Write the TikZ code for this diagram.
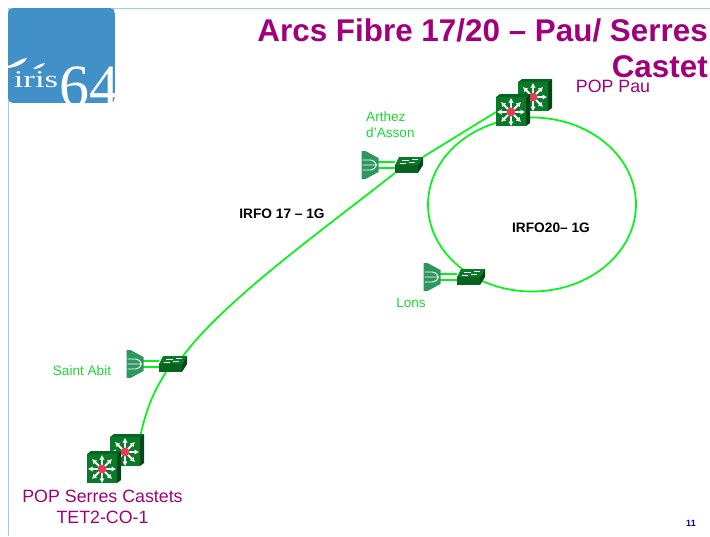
\documentclass[tikz,border=0pt]{standalone}
\usepackage{fontspec}
\setmainfont{Liberation Sans}
\newfontfamily\logofont{Liberation Serif}
\usepackage{xcolor}
\usepackage{tikz}
\usetikzlibrary{shapes.geometric, arrows.meta, positioning}
\definecolor{titlepurple}{RGB}{160,0,122}
\definecolor{fibregreen}{RGB}{0,245,20}
\definecolor{labelgreen}{RGB}{30,215,50}
\definecolor{framedblue}{RGB}{150,205,245}
\definecolor{logoblue}{RGB}{66,144,200}
\definecolor{iconfront}{RGB}{8,122,40}
\definecolor{icontop}{RGB}{6,100,32}
\definecolor{iconside}{RGB}{4,70,24}
\definecolor{hubgreen}{RGB}{46,150,95}
\definecolor{dotred}{RGB}{228,60,90}
\tikzstyle{iconbox} = [rectangle, inner sep=0pt, outer sep=0pt]
\tikzstyle{routerbox} = [iconbox, minimum width=30pt, minimum height=29pt]
\tikzstyle{switchbox} = [iconbox, minimum width=28pt, minimum height=16pt]
\tikzstyle{hubbox} = [iconbox, minimum width=17pt, minimum height=28pt]
\tikzstyle{fibre} = [draw=fibregreen, line width=1.7pt]
\tikzstyle{sitelabel} = [font=\fontsize{13.6}{16}\selectfont, text=labelgreen, inner sep=0pt, align=left]
\tikzstyle{linklabel} = [font=\fontsize{13.7}{16}\selectfont\bfseries, text=black, inner sep=0pt]
\tikzstyle{poplabel} = [font=\fontsize{17.8}{21}\selectfont, text=titlepurple, inner sep=0pt, align=center]
\tikzstyle{titletext} = [font=\fontsize{31.4}{38}\selectfont\bfseries, text=titlepurple, inner sep=0pt]
\tikzset{
  routericon/.pic={
    \fill[icontop] (-15,-15) -- (-11,-18) -- (19,-18) -- (15,-15) -- cycle;
    \fill[iconside] (15,-15) -- (19,-18) -- (19,11) -- (15,14) -- cycle;
    \fill[iconfront] (-15,-15) rectangle (15,14);
    \foreach \a in {0,45,...,315}
      \draw[white, line width=1.8pt, -{Latex[length=4.5pt,width=5.5pt]}] (0,0) -- (\a:14);
    \fill[dotred] (0,0) circle (4.5);
  },
  switchicon/.pic={
    \fill[iconfront] (-10,-8) -- (14,-8) -- (9,0) -- (-14,0) -- cycle;
    \fill[iconside] (9,0) -- (14,-8) -- (14,0) -- (9,8) -- cycle;
    \fill[icontop] (-14,0) rectangle (9,8);
    \draw[white, line width=1pt] (-7,-5) -- (0,-5) (3,-5.5) -- (9,-5.5) (-9,-2) -- (-3,-2) (0,-2.5) -- (6,-2.5);
  },
  hubicon/.pic={
    \fill[hubgreen] (-8,-14) -- (-4,-14) -- (9,-7) -- (9,7) -- (-4,14) -- (-8,14) -- cycle;
    \draw[white, line width=0.9pt] (-7,-5) -- (1,-5) .. controls (4,-5) and (6,-3) .. (7,0)
      (-7,0) -- (7,0) (-7,5) -- (1,5) .. controls (4,5) and (6,3) .. (7,0);
  },
}

\begin{document}
\begin{tikzpicture}[x=1pt, y=-1pt]
    \useasboundingbox (0,0) rectangle (710,536);

    % Frame and logo
    \coordinate (frametop) at (710,8);
    \coordinate (framebot) at (8,536);
    \draw[framedblue, line width=0.9pt] (framebot) |- (frametop);
    \begin{scope}
      \clip[rounded corners=5pt] (8,8) rectangle (115,103);
      \fill[logoblue] (8,8) rectangle (115,103);
      \fill[white] (8,66) .. controls (14,64) and (22,58) .. (27,58) .. controls (26,62) and (18,67) .. (8,68) -- cycle;
      \fill[white] (33,69) .. controls (36,66) and (40,64) .. (45,63) .. controls (44,66) and (39,69) .. (33,69) -- cycle;
      \node[inner sep=0pt, text=white, xscale=1.45, transform shape, font=\logofont\fontsize{24}{24}\selectfont] (logoname) at (36,80) {iris};
      \node[inner sep=0pt, text=white, font=\logofont\fontsize{60}{60}\selectfont] (logonum) at (89,87) {64};
    \end{scope}

    % Title
    \node[titletext, anchor=east] (title) at (708,30) {Arcs Fibre 17/20 -- Pau/ Serres};
    \node[titletext, anchor=east] (titleb) at (708,67) {Castet};

    % Ring (behind the icons)
    \node[ellipse, fibre, minimum width=208pt, minimum height=174pt] (ring) at (532,204.5) {};

    % Routers and switches
    \node[routerbox] (paub) at (533,97) {};
    \node[routerbox] (pauf) at (511,112) {};
    \node[routerbox] (serresb) at (125,452) {};
    \node[routerbox] (serresf) at (102,469) {};
    \node[switchbox] (arthezsw) at (409,165) {};
    \node[switchbox] (abitsw) at (173,364) {};
    \node[switchbox] (lonssw) at (471,277) {};
    \node[hubbox, left=17pt of arthezsw] (arthezhub) {};
    \node[hubbox, left=16pt of abitsw] (abithub) {};
    \node[hubbox, left=17pt of lonssw] (lonshub) {};

    % Fibre links
    \draw[fibre] (arthezsw.north east) -- (pauf.west);
    \draw[fibre] ([xshift=-4pt]abitsw.north east) .. controls (225,300) and (320,232) .. (arthezsw.south west);
    \draw[fibre] (serresb.north east) .. controls (147,405) and (155,390) .. ([xshift=-7pt]abitsw.south);
    \foreach \sw/\hub in {arthezsw/arthezhub, abitsw/abithub, lonssw/lonshub} {
      \draw[fibre] ([yshift=-2.7pt]\hub.east) -- ([yshift=-2.7pt]\sw.west);
      \draw[fibre] ([yshift=2.7pt]\hub.east) -- ([yshift=2.7pt]\sw.west);
    }

    % Icons
    \pic at (paub) {routericon};
    \pic at (pauf) {routericon};
    \pic at (serresb) {routericon};
    \pic at (serresf) {routericon};
    \foreach \sw in {arthezsw, abitsw, lonssw} \pic at (\sw) {switchicon};
    \foreach \hub in {arthezhub, abithub, lonshub} \pic at (\hub) {hubicon};

    % Labels
    \node[poplabel] (poppau) at (613,86) {POP Pau};
    \node[poplabel] (popserres) at (102.5,506.5) {POP Serres Castets\\TET2-CO-1};
    \node[sitelabel, anchor=west] (arthezlab) at (366,125) {Arthez\\d'Asson};
    \node[sitelabel] (abitlab) at (82,371) {Saint Abit};
    \node[sitelabel] (lonslab) at (411,303) {Lons};
    \node[linklabel] (irfoa) at (282,214) {IRFO 17 -- 1G};
    \node[linklabel] (irfob) at (551,228) {IRFO20-- 1G};
    \node[inner sep=0pt, text=blue!65!black, font=\fontsize{9}{10}\selectfont\bfseries] (pagenum) at (691,523) {11};
\end{tikzpicture}
\end{document}
